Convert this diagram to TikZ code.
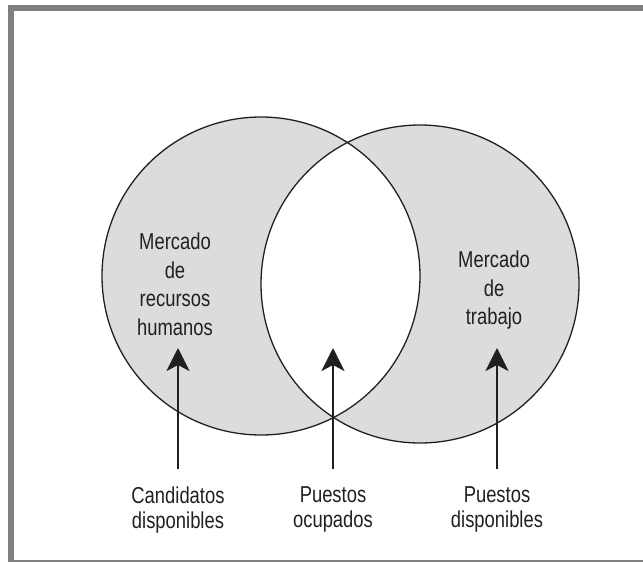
\documentclass[tikz,border=0pt]{standalone}
\usepackage{fontspec}
\setmainfont{Liberation Sans}[FakeStretch=0.8]
\usepackage{xcolor}
\usepackage{tikz}
\usetikzlibrary{positioning,arrows.meta,calc}

\definecolor{frameGray}{HTML}{808080}
\definecolor{setFill}{HTML}{DCDCDD}
\definecolor{inkBlack}{HTML}{231F20}

\tikzset{
  setline/.style={draw=inkBlack, line width=1.3pt},
  arr/.style={draw=inkBlack, line width=2.4pt, -{Stealth[length=23pt, width=23pt, inset=6pt]}},
  settext/.style={align=center, inner sep=0pt, anchor=north, text=inkBlack,
    font=\fontsize{23}{28.7}\selectfont},
  lbl/.style={align=center, inner sep=0pt, outer ysep=17.5pt, anchor=north, text=inkBlack,
    font=\fontsize{23}{25}\selectfont}
}

\begin{document}
\begin{tikzpicture}[x=1pt, y=-1pt]
\useasboundingbox (0,0) rectangle (643,562);

% Frame
\draw[frameGray, line width=6pt, line join=miter] (643,8) -- (11,8) -- (11,562);
\draw[frameGray, line width=2pt] (8,561) -- (643,561);

% Two markets
\coordinate (hrC) at (261,276);
\coordinate (jobC) at (420,284);
\fill[setFill] (hrC) circle (159);
\fill[setFill] (jobC) circle (159);
\begin{scope}
  \clip (hrC) circle (159);
  \fill[white] (jobC) circle (159);
\end{scope}
\draw[setline] (hrC) circle (159);
\draw[setline] (jobC) circle (159);

% Labels inside
\node[settext] (hrText) at (175,232.5) {Mercado\\de\\recursos\\humanos};
\node[settext] (jobText) at (494,250.5) {Mercado\\de\\trabajo};

% Labels below
\node[lbl] (cand) at (178,469) {Candidatos\\disponibles};
\node[lbl] (filled) at (333,469) {Puestos\\ocupados};
\node[lbl] (open) at (497,469) {Puestos\\disponibles};

% Arrows
\coordinate (candTip) at (178,348);
\coordinate (filledTip) at (333,348);
\coordinate (openTip) at (497,348);
\draw[arr] (cand.north) -- (candTip);
\draw[arr] (filled.north) -- (filledTip);
\draw[arr] (open.north) -- (openTip);
\end{tikzpicture}
\end{document}
